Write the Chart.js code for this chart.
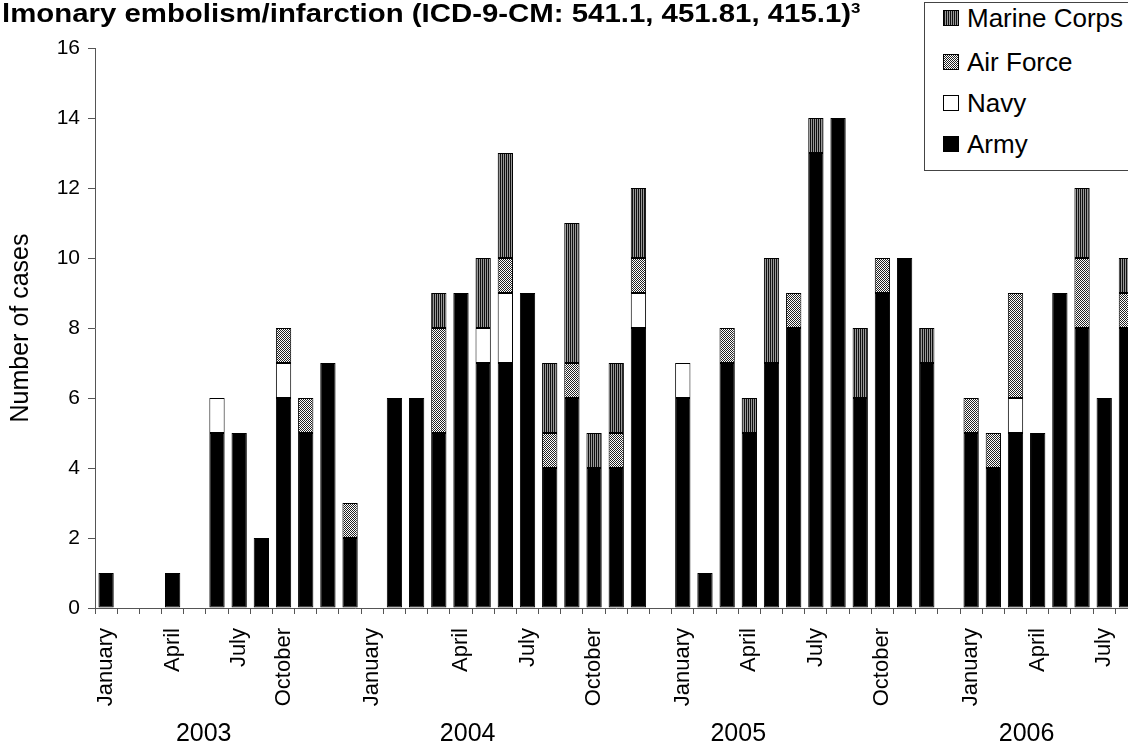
<!DOCTYPE html>
<html>
<head>
<meta charset="utf-8">
<script src="https://cdn.jsdelivr.net/npm/chart.js@4.4.1/dist/chart.umd.min.js"></script>
<style>
  html, body { margin: 0; padding: 0; background: #fff; overflow: hidden; width: 1128px; height: 748px; }
  #wrap { position: relative; width: 1128px; height: 748px; overflow: hidden; }
  #chart { position: absolute; left: 0; top: 0; }
  #title {
    position: absolute; left: 2px; top: 0; color: #000; white-space: nowrap;
    font: bold 26px "Liberation Sans", Arial, sans-serif; line-height: 26px;
    transform: scaleX(1.13); transform-origin: 0 0;
  }
  #title sup { font-size: 15px; vertical-align: 9px; line-height: 0; }
  #legend {
    position: absolute; left: 924px; top: 2px; width: 240px; height: 167px;
    border: 1px solid #444; background: #fff;
    font: 26px "Liberation Sans", Arial, sans-serif; color: #000;
  }
  .item { position: absolute; left: 18px; height: 30px; line-height: 30px; }
  .key { position: absolute; left: 0; top: 7px; width: 16px; height: 16px; box-sizing: border-box; border: 1px solid #000; }
  .lbl { position: absolute; left: 24px; white-space: nowrap; }
</style>
</head>
<body>
<div id="wrap">
  <canvas id="chart" width="1140" height="748"></canvas>
  <div id="title">lmonary embolism/infarction (ICD-9-CM: 541.1, 451.81, 415.1)<sup>3</sup></div>
  <div id="legend"></div>
</div>
<script>
// one slot per month, with an empty slot between years
const categories = [
  "Jan 2003", "Feb 2003", "Mar 2003", "Apr 2003", "May 2003", "Jun 2003",
  "Jul 2003", "Aug 2003", "Sep 2003", "Oct 2003", "Nov 2003", "Dec 2003", "",
  "Jan 2004", "Feb 2004", "Mar 2004", "Apr 2004", "May 2004", "Jun 2004",
  "Jul 2004", "Aug 2004", "Sep 2004", "Oct 2004", "Nov 2004", "Dec 2004", "",
  "Jan 2005", "Feb 2005", "Mar 2005", "Apr 2005", "May 2005", "Jun 2005",
  "Jul 2005", "Aug 2005", "Sep 2005", "Oct 2005", "Nov 2005", "Dec 2005", "",
  "Jan 2006", "Feb 2006", "Mar 2006", "Apr 2006", "May 2006", "Jun 2006",
  "Jul 2006", "Aug 2006",
];

// month labels as they sit under the axis
const monthTicks = [
  "January", "", "", "April", "", "", "July", "", "October", "", "", "",
  "January", "", "", "", "April", "", "", "July", "", "", "October", "", "", "",
  "January", "", "", "April", "", "", "July", "", "", "October", "", "", "",
  "January", "", "", "April", "", "", "July", "",
];

const years = ["2003", "2004", "2005", "2006"];
const yearCenters = [4.4, 16.3, 28.5, 41.5]; // in category slots

const army = [
  1, 0, 0, 1, 0, 5, 5, 2, 6, 5, 7, 2, null,
  6, 6, 5, 9, 7, 7, 9, 4, 6, 4, 4, 8, null,
  6, 1, 7, 5, 7, 8, 13, 14, 6, 9, 10, 7, null,
  5, 4, 5, 5, 9, 8, 6, 8,
];
const navy = [
  0, 0, 0, 0, 0, 1, 0, 0, 1, 0, 0, 0, null,
  0, 0, 0, 0, 1, 2, 0, 0, 0, 0, 0, 1, null,
  1, 0, 0, 0, 0, 0, 0, 0, 0, 0, 0, 0, null,
  0, 0, 1, 0, 0, 0, 0, 0,
];
const airForce = [
  0, 0, 0, 0, 0, 0, 0, 0, 1, 1, 0, 1, null,
  0, 0, 3, 0, 0, 1, 0, 1, 1, 0, 1, 1, null,
  0, 0, 1, 0, 0, 1, 0, 0, 0, 1, 0, 0, null,
  1, 1, 3, 0, 0, 2, 0, 1,
];
const marineCorps = [
  0, 0, 0, 0, 0, 0, 0, 0, 0, 0, 0, 0, null,
  0, 0, 1, 0, 2, 3, 0, 2, 4, 1, 2, 2, null,
  0, 0, 0, 1, 3, 0, 1, 0, 2, 0, 0, 1, null,
  0, 0, 0, 0, 0, 2, 0, 1,
];

const FONT = '"Liberation Sans", Arial, sans-serif';
const AXIS = "#555";

function makePattern(ctx, w, h, draw) {
  const tile = document.createElement("canvas");
  tile.width = w;
  tile.height = h;
  draw(tile.getContext("2d"));
  return ctx.createPattern(tile, "repeat");
}

const canvas = document.getElementById("chart");
const ctx = canvas.getContext("2d");

const stripes = makePattern(ctx, 2, 1, (t) => {
  t.fillStyle = "#999";
  t.fillRect(0, 0, 2, 1);
  t.fillStyle = "#111";
  t.fillRect(0, 0, 1, 1);
});
const checker = makePattern(ctx, 2, 2, (t) => {
  t.fillStyle = "#fff";
  t.fillRect(0, 0, 2, 2);
  t.fillStyle = "#222";
  t.fillRect(0, 0, 1, 1);
  t.fillRect(1, 1, 1, 1);
});

const series = [
  { label: "Army", data: army, fill: "#000", css: "#000" },
  { label: "Navy", data: navy, fill: "#fff", css: "#fff" },
  {
    label: "Air Force", data: airForce, fill: checker,
    css: "repeating-conic-gradient(#222 0 25%, #fff 0 50%) 0 0 / 2px 2px",
  },
  {
    label: "Marine Corps", data: marineCorps, fill: stripes,
    css: "repeating-linear-gradient(90deg, #111 0 1px, #999 1px 2px)",
  },
];

// legend, top entry first
const legend = document.getElementById("legend");
const rowTops = [0, 44, 85, 126];
[...series].reverse().forEach((s, i) => {
  const item = document.createElement("div");
  item.className = "item";
  item.style.top = rowTops[i] + "px";
  item.innerHTML = `<span class="key" style="background:${s.css}"></span><span class="lbl">${s.label}</span>`;
  legend.appendChild(item);
});

const yearLabels = {
  id: "yearLabels",
  afterDraw(chart) {
    const x = chart.scales.x;
    const c = chart.ctx;
    c.save();
    c.font = "25px " + FONT;
    c.fillStyle = "#000";
    c.textAlign = "center";
    c.textBaseline = "alphabetic";
    years.forEach((y, i) => c.fillText(y, x.getPixelForValue(yearCenters[i]), 741));
    c.restore();
  },
};

new Chart(canvas, {
  type: "bar",
  data: {
    labels: categories,
    datasets: series.map((s) => ({
      label: s.label,
      data: s.data,
      backgroundColor: s.fill,
      borderColor: "#000",
      borderWidth: (c) => (c.raw ? 1 : 0),
      borderSkipped: false,
      categoryPercentage: 1,
      barPercentage: 0.69,
    })),
  },
  options: {
    responsive: false,
    animation: false,
    layout: { padding: { top: 48, right: 2.5, bottom: 0, left: 0 } },
    plugins: {
      legend: { display: false },
      tooltip: { enabled: false },
    },
    scales: {
      x: {
        stacked: true,
        grid: { drawOnChartArea: false, drawTicks: true, tickLength: 6, color: AXIS, offset: true },
        border: { color: AXIS, width: 1 },
        ticks: {
          autoSkip: false,
          minRotation: 90,
          maxRotation: 90,
          padding: 14,
          color: "#000",
          font: { family: FONT, size: 22 },
          callback: (v, i) => monthTicks[i],
        },
        afterFit: (s) => {
          s.height = 140;
          s.paddingLeft = 0;
          s.paddingRight = 0;
        },
      },
      y: {
        stacked: true,
        min: 0,
        max: 16,
        grid: { drawOnChartArea: false, drawTicks: true, tickLength: 7, color: AXIS },
        border: { color: AXIS, width: 1 },
        ticks: {
          stepSize: 2,
          padding: 8,
          color: "#000",
          font: { family: FONT, size: 21 },
        },
        title: {
          display: true,
          text: "Number of cases",
          color: "#000",
          font: { family: FONT, size: 25 },
          padding: { top: 6, bottom: 0 },
        },
        afterFit: (s) => {
          s.width = 95;
        },
      },
    },
  },
  plugins: [yearLabels],
});
</script>
</body>
</html>
